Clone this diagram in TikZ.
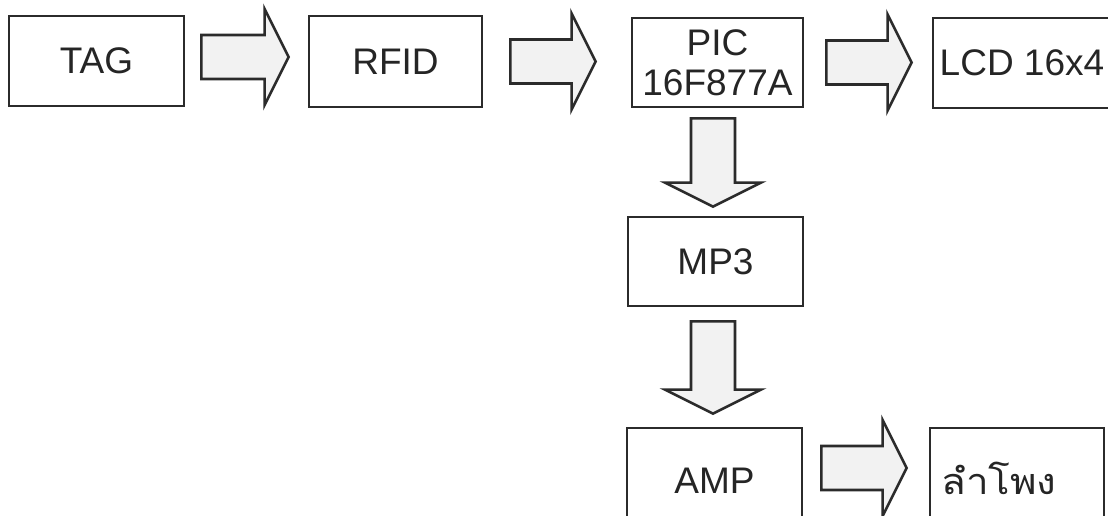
\documentclass[tikz,border=0pt]{standalone}
\usepackage{fontspec}
\setmainfont{Liberation Sans}
\newfontfamily\thaifont[Script=Thai,FakeStretch=1.12]{Loma}
\usetikzlibrary{calc}
\definecolor{linec}{HTML}{2B2B2B}
\definecolor{textc}{HTML}{252525}
\definecolor{arrowfill}{HTML}{F2F2F2}
\newcommand\blkright[2]{\draw[blk] let \p1=(#1), \p2=(#2) in
  (\x1,\y1+22pt) -- (\x2-24pt,\y1+22pt) -- (\x2-24pt,\y1+48pt) -- (\x2,\y1)
  -- (\x2-24pt,\y1-48pt) -- (\x2-24pt,\y1-22pt) -- (\x1,\y1-22pt) -- cycle;}
\newcommand\blkdown[2]{\draw[blk] let \p1=(#1), \p2=(#2) in
  (\x1-22pt,\y1) -- (\x1-22pt,\y2+24pt) -- (\x1-48pt,\y2+24pt) -- (\x1,\y2)
  -- (\x1+48pt,\y2+24pt) -- (\x1+22pt,\y2+24pt) -- (\x1+22pt,\y1) -- cycle;}
\begin{document}
\begin{tikzpicture}[x=1pt,y=-1pt,
  box/.style={draw=linec, line width=2.8pt, fill=white, inner sep=0pt,
    font=\fontsize{37}{40}\selectfont, text=textc, align=center},
  blk/.style={draw=linec, line width=2.6pt, fill=arrowfill, line join=miter}]
\fill[white] (0,0) rectangle (1108,515);
\useasboundingbox (0,0) rectangle (1108,515);
\node[box, minimum width=175pt, minimum height=90pt] (tag) at (96.5,61) {TAG};
\node[box, minimum width=173pt, minimum height=91pt] (rfid) at (395.5,61.5) {RFID};
\node[box, minimum width=171pt, minimum height=89pt] (pic) at (717.5,62.5) {PIC\\16F877A};
\node[box, minimum width=178pt, minimum height=90pt] (lcd) at (1022,63) {LCD 16x4};
\node[box, minimum width=175pt, minimum height=89pt] (mp3) at (715.5,261.5) {MP3};
\node[box, minimum width=175pt, minimum height=106pt] (amp) at (714.5,481) {AMP};
\node[box, minimum width=174pt, minimum height=106pt] (spk) at (1017,481)
  {\fontsize{36}{40}\thaifont\raisebox{5pt}{ลำโพง}\hspace*{36pt}};
\blkright{[xshift=16pt,yshift=4pt]tag.east}{[xshift=-19pt]rfid.west}
\blkright{[xshift=27pt]rfid.east}{[xshift=-35pt]pic.west}
\blkright{[xshift=22pt]pic.east}{[xshift=-20pt]lcd.west}
\blkdown{[xshift=-4.5pt,yshift=-10pt]pic.south}{[yshift=9pt]mp3.north}
\blkdown{[xshift=-2.5pt,yshift=-14pt]mp3.south}{[yshift=13pt]amp.north}
\blkright{[xshift=18pt,yshift=13pt]amp.east}{[xshift=-22pt]spk.west}
\end{tikzpicture}
\end{document}
